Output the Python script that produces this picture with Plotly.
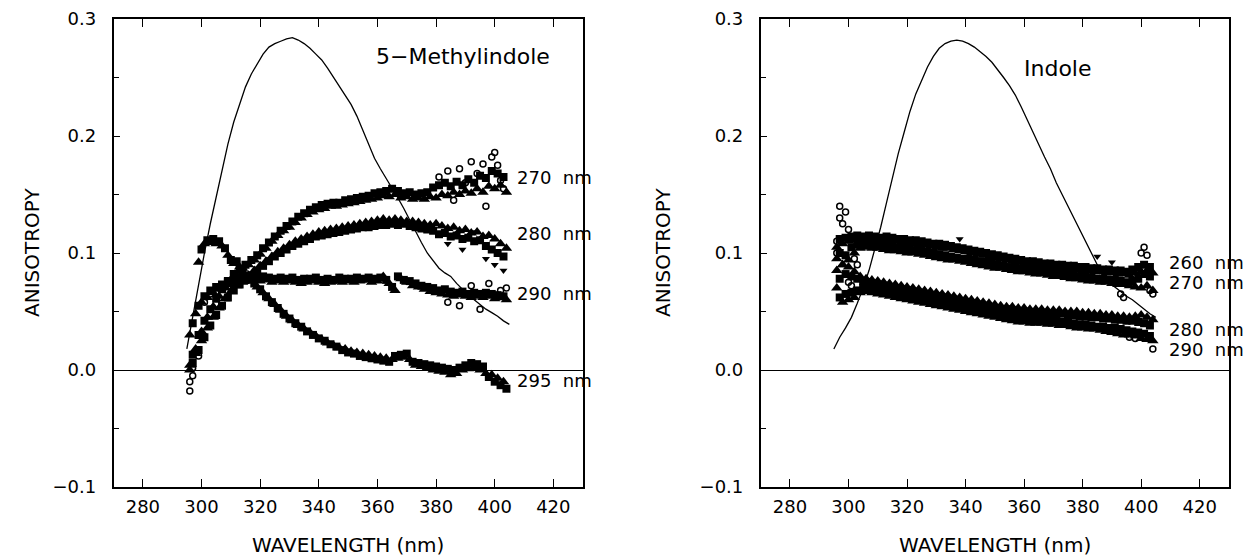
import plotly.graph_objects as go

# wavelength grid of the anisotropy data (nm)
wl = list(range(296, 405))
wl_295 = list(range(299, 405))

# ---- 5-Methylindole panel ----
mi_270 = [0.004, 0.013, 0.018, 0.030, 0.033, 0.042, 0.045, 0.052, 0.054, 0.061,
          0.063, 0.069, 0.070, 0.076, 0.077, 0.082, 0.081, 0.086, 0.087, 0.090,
          0.090, 0.094, 0.094, 0.098, 0.099, 0.104, 0.104, 0.109, 0.110, 0.114,
          0.115, 0.119, 0.119, 0.123, 0.122, 0.127, 0.126, 0.131, 0.130, 0.134,
          0.133, 0.137, 0.135, 0.139, 0.137, 0.141, 0.138, 0.142, 0.140, 0.143,
          0.140, 0.143, 0.141, 0.145, 0.142, 0.146, 0.143, 0.147, 0.144, 0.148,
          0.145, 0.149, 0.146, 0.151, 0.147, 0.152, 0.149, 0.153, 0.148, 0.155,
          0.150, 0.153, 0.147, 0.151, 0.148, 0.152, 0.146, 0.150, 0.147, 0.151,
          0.146, 0.152, 0.148, 0.156, 0.147, 0.158, 0.150, 0.160, 0.149, 0.157,
          0.152, 0.161, 0.150, 0.158, 0.153, 0.163, 0.151, 0.160, 0.155, 0.166,
          0.152, 0.164, 0.157, 0.170, 0.155, 0.168, 0.158, 0.165, 0.152]
mi_280 = [0.000, 0.006, 0.014, 0.017, 0.025, 0.028, 0.036, 0.038, 0.045, 0.047,
          0.053, 0.055, 0.061, 0.062, 0.067, 0.068, 0.072, 0.073, 0.077, 0.077,
          0.081, 0.081, 0.085, 0.085, 0.089, 0.089, 0.093, 0.093, 0.097, 0.097,
          0.101, 0.100, 0.104, 0.103, 0.107, 0.106, 0.110, 0.108, 0.112, 0.110,
          0.114, 0.112, 0.116, 0.114, 0.118, 0.115, 0.119, 0.116, 0.120, 0.117,
          0.121, 0.118, 0.122, 0.119, 0.123, 0.120, 0.124, 0.121, 0.125, 0.122,
          0.126, 0.122, 0.127, 0.123, 0.128, 0.124, 0.129, 0.124, 0.128, 0.125,
          0.129, 0.124, 0.128, 0.125, 0.127, 0.123, 0.127, 0.122, 0.126, 0.121,
          0.125, 0.120, 0.124, 0.119, 0.125, 0.116, 0.123, 0.117, 0.121, 0.114,
          0.122, 0.115, 0.119, 0.112, 0.120, 0.113, 0.117, 0.110, 0.118, 0.111,
          0.114, 0.106, 0.115, 0.103, 0.112, 0.100, 0.108, 0.097, 0.104]
mi_290 = [0.030, 0.040, 0.048, 0.055, 0.058, 0.063, 0.062, 0.068, 0.066, 0.071,
          0.069, 0.073, 0.071, 0.075, 0.073, 0.077, 0.074, 0.078, 0.075, 0.079,
          0.076, 0.080, 0.077, 0.079, 0.076, 0.080, 0.077, 0.079, 0.075, 0.078,
          0.076, 0.079, 0.075, 0.078, 0.076, 0.079, 0.075, 0.077, 0.074, 0.078,
          0.075, 0.078, 0.076, 0.079, 0.075, 0.077, 0.074, 0.078, 0.075, 0.077,
          0.076, 0.079, 0.075, 0.078, 0.076, 0.078, 0.075, 0.079, 0.076, 0.078,
          0.077, 0.079, 0.075, 0.078, 0.076, 0.079, 0.080, 0.077, 0.074, 0.071,
          0.068, 0.080, 0.078, 0.077, 0.075, 0.076, 0.072, 0.074, 0.071, 0.072,
          0.069, 0.071, 0.067, 0.070, 0.066, 0.068, 0.065, 0.069, 0.064, 0.067,
          0.063, 0.066, 0.064, 0.067, 0.063, 0.065, 0.062, 0.066, 0.063, 0.065,
          0.062, 0.066, 0.063, 0.065, 0.061, 0.064, 0.062, 0.063, 0.060]
mi_295 = [0.092, 0.103, 0.108, 0.111, 0.109, 0.112, 0.108, 0.110, 0.106, 0.104,
          0.098, 0.094, 0.091, 0.093, 0.088, 0.084, 0.081, 0.079, 0.076, 0.074,
          0.071, 0.069, 0.066, 0.063, 0.061, 0.058, 0.056, 0.053, 0.051, 0.048,
          0.046, 0.044, 0.042, 0.040, 0.038, 0.037, 0.035, 0.033, 0.032, 0.030,
          0.029, 0.027, 0.026, 0.025, 0.023, 0.022, 0.021, 0.020, 0.019, 0.017,
          0.018, 0.015, 0.016, 0.014, 0.015, 0.012, 0.014, 0.011, 0.013, 0.010,
          0.012, 0.009, 0.011, 0.008, 0.010, 0.007, 0.009, 0.012, 0.010, 0.013,
          0.011, 0.014, 0.009, 0.007, 0.004, 0.006, 0.003, 0.005, 0.002, 0.004,
          0.000, 0.003, -0.001, 0.002, -0.002, 0.001, -0.004, 0.000, -0.003, 0.002,
          0.000, 0.004, 0.001, 0.006, 0.002, 0.005, 0.000, 0.003, -0.003, -0.006,
          -0.004, -0.010, -0.007, -0.013, -0.010, -0.016]
# scattered open symbols
mi_open_x = [296, 296, 297, 297, 299, 301, 303, 381, 384, 386, 388, 390, 392, 394, 396, 397,
             399, 400, 401, 402, 403, 384, 388, 392, 395, 398, 402, 404]
mi_open_y = [-0.018, -0.010, -0.005, 0.002, 0.012, 0.058, 0.065, 0.165, 0.170, 0.145, 0.172,
             0.160, 0.178, 0.168, 0.176, 0.140, 0.182, 0.186, 0.175, 0.162, 0.155,
             0.058, 0.055, 0.072, 0.052, 0.074, 0.068, 0.070]
mi_inv_x = [384, 389, 393, 397, 400, 403]
mi_inv_y = [0.108, 0.103, 0.118, 0.095, 0.090, 0.085]

# emission spectrum, 5-methylindole
em_wl_mi = [295, 297, 299, 301, 303, 305, 307, 309, 311, 313, 315, 317, 319, 321, 323, 325,
            327, 329, 331, 333, 335, 337, 339, 341, 343, 345, 347, 349, 351, 353, 355, 357,
            359, 361, 363, 365, 367, 369, 371, 373, 375, 377, 379, 381, 383, 385, 387, 389,
            391, 393, 395, 397, 399, 401, 403, 405]
em_mi = [0.018, 0.045, 0.075, 0.100, 0.125, 0.148, 0.172, 0.193, 0.212, 0.228, 0.242, 0.253,
         0.262, 0.270, 0.276, 0.279, 0.281, 0.283, 0.284, 0.282, 0.279, 0.275, 0.270, 0.265,
         0.258, 0.250, 0.243, 0.235, 0.227, 0.217, 0.205, 0.193, 0.181, 0.172, 0.164, 0.156,
         0.147, 0.138, 0.128, 0.118, 0.109, 0.100, 0.093, 0.087, 0.083, 0.080, 0.074, 0.069,
         0.064, 0.060, 0.056, 0.052, 0.049, 0.046, 0.042, 0.039]

# ---- Indole panel ----
in_260 = [0.105, 0.112, 0.108, 0.113, 0.110, 0.114, 0.111, 0.115, 0.112, 0.114,
          0.111, 0.115, 0.112, 0.114, 0.111, 0.113, 0.110, 0.114, 0.111, 0.113,
          0.110, 0.112, 0.109, 0.112, 0.109, 0.111, 0.108, 0.111, 0.107, 0.110,
          0.107, 0.109, 0.106, 0.108, 0.105, 0.108, 0.104, 0.107, 0.104, 0.106,
          0.103, 0.105, 0.102, 0.104, 0.101, 0.103, 0.100, 0.102, 0.099, 0.101,
          0.098, 0.100, 0.097, 0.099, 0.096, 0.098, 0.095, 0.097, 0.094, 0.096,
          0.093, 0.095, 0.092, 0.094, 0.091, 0.093, 0.090, 0.093, 0.090, 0.092,
          0.089, 0.091, 0.088, 0.091, 0.088, 0.090, 0.087, 0.090, 0.087, 0.089,
          0.086, 0.089, 0.086, 0.088, 0.085, 0.088, 0.085, 0.087, 0.084, 0.087,
          0.084, 0.086, 0.083, 0.086, 0.083, 0.085, 0.082, 0.085, 0.082, 0.084,
          0.081, 0.086, 0.083, 0.088, 0.084, 0.090, 0.085, 0.088, 0.083]
in_270 = [0.095, 0.100, 0.090, 0.098, 0.094, 0.105, 0.100, 0.107, 0.104, 0.108,
          0.105, 0.108, 0.104, 0.107, 0.104, 0.107, 0.103, 0.106, 0.102, 0.106,
          0.102, 0.105, 0.101, 0.104, 0.100, 0.103, 0.100, 0.102, 0.099, 0.102,
          0.098, 0.101, 0.097, 0.100, 0.096, 0.099, 0.095, 0.098, 0.094, 0.097,
          0.094, 0.096, 0.093, 0.095, 0.092, 0.095, 0.091, 0.094, 0.090, 0.093,
          0.089, 0.092, 0.088, 0.091, 0.087, 0.090, 0.087, 0.089, 0.086, 0.088,
          0.085, 0.088, 0.084, 0.087, 0.084, 0.086, 0.083, 0.086, 0.082, 0.085,
          0.082, 0.084, 0.081, 0.084, 0.080, 0.083, 0.080, 0.082, 0.079, 0.082,
          0.078, 0.081, 0.078, 0.080, 0.077, 0.080, 0.076, 0.079, 0.076, 0.078,
          0.075, 0.078, 0.075, 0.077, 0.074, 0.077, 0.073, 0.076, 0.073, 0.075,
          0.072, 0.076, 0.071, 0.078, 0.070, 0.082, 0.072, 0.080, 0.068]
in_280 = [0.085, 0.078, 0.090, 0.082, 0.088, 0.080, 0.084, 0.078, 0.080, 0.076,
          0.078, 0.075, 0.077, 0.074, 0.076, 0.073, 0.075, 0.072, 0.074, 0.071,
          0.073, 0.070, 0.072, 0.069, 0.071, 0.068, 0.070, 0.067, 0.069, 0.066,
          0.068, 0.065, 0.067, 0.064, 0.066, 0.063, 0.065, 0.062, 0.064, 0.061,
          0.063, 0.060, 0.062, 0.059, 0.061, 0.058, 0.060, 0.057, 0.059, 0.056,
          0.058, 0.055, 0.057, 0.054, 0.056, 0.053, 0.055, 0.052, 0.054, 0.052,
          0.054, 0.051, 0.053, 0.050, 0.053, 0.050, 0.052, 0.049, 0.052, 0.049,
          0.052, 0.049, 0.051, 0.048, 0.051, 0.048, 0.051, 0.048, 0.050, 0.047,
          0.050, 0.047, 0.050, 0.046, 0.049, 0.046, 0.049, 0.045, 0.048, 0.045,
          0.048, 0.044, 0.047, 0.044, 0.047, 0.043, 0.046, 0.043, 0.046, 0.042,
          0.045, 0.042, 0.046, 0.041, 0.047, 0.040, 0.045, 0.038, 0.043]
in_290 = [0.070, 0.062, 0.058, 0.065, 0.060, 0.066, 0.062, 0.068, 0.066, 0.070,
          0.067, 0.070, 0.066, 0.069, 0.065, 0.068, 0.064, 0.067, 0.063, 0.066,
          0.062, 0.065, 0.061, 0.064, 0.060, 0.063, 0.059, 0.062, 0.058, 0.061,
          0.057, 0.060, 0.056, 0.059, 0.055, 0.058, 0.054, 0.057, 0.053, 0.056,
          0.052, 0.055, 0.051, 0.054, 0.050, 0.053, 0.049, 0.052, 0.048, 0.051,
          0.047, 0.050, 0.046, 0.049, 0.045, 0.048, 0.044, 0.047, 0.043, 0.046,
          0.042, 0.045, 0.041, 0.044, 0.041, 0.044, 0.040, 0.043, 0.040, 0.043,
          0.040, 0.043, 0.039, 0.042, 0.039, 0.042, 0.038, 0.041, 0.038, 0.041,
          0.037, 0.040, 0.036, 0.039, 0.036, 0.039, 0.035, 0.038, 0.035, 0.037,
          0.034, 0.037, 0.033, 0.036, 0.032, 0.036, 0.031, 0.035, 0.030, 0.034,
          0.030, 0.033, 0.029, 0.032, 0.027, 0.031, 0.026, 0.029, 0.025]
in_open_x = [296, 296, 297, 297, 298, 299, 300, 300, 301, 302, 303, 392, 393, 394, 396, 398,
             400, 401, 402, 403, 404, 404]
in_open_y = [0.100, 0.110, 0.140, 0.130, 0.125, 0.135, 0.120, 0.075, 0.072, 0.095, 0.090,
             0.085, 0.065, 0.062, 0.028, 0.027, 0.100, 0.105, 0.098, 0.068, 0.065, 0.018]
in_inv_x = [338, 385, 390]
in_inv_y = [0.112, 0.097, 0.092]

# emission spectrum, indole
em_wl_in = [295, 297, 299, 301, 303, 305, 307, 309, 311, 313, 315, 317, 319, 321, 323, 325,
            327, 329, 331, 333, 335, 337, 339, 341, 343, 345, 347, 349, 351, 353, 355, 357,
            359, 361, 363, 365, 367, 369, 371, 373, 375, 377, 379, 381, 383, 385, 387, 389,
            391, 393, 395, 397, 399, 401, 403, 405]
em_in = [0.018, 0.028, 0.036, 0.045, 0.057, 0.070, 0.085, 0.103, 0.122, 0.143, 0.165, 0.185,
         0.203, 0.221, 0.236, 0.248, 0.259, 0.268, 0.275, 0.279, 0.281, 0.282, 0.281, 0.279,
         0.276, 0.272, 0.268, 0.263, 0.257, 0.250, 0.243, 0.235, 0.225, 0.214, 0.203, 0.192,
         0.182, 0.172, 0.160, 0.150, 0.140, 0.130, 0.120, 0.110, 0.100, 0.090, 0.082, 0.076,
         0.071, 0.067, 0.063, 0.060, 0.056, 0.052, 0.048, 0.045]

FONT = "DejaVu Sans"
fig = go.Figure()


def add_panel(xa, ya, bands, opens, invs, em_x, em_y):
    fig.add_trace(go.Scatter(x=em_x, y=em_y, mode="lines", xaxis=xa, yaxis=ya,
                             line=dict(color="black", width=1.3), showlegend=False))
    for bx, by in bands:
        fig.add_trace(go.Scatter(x=bx[0::2], y=by[0::2], mode="markers", xaxis=xa, yaxis=ya,
                                 marker=dict(symbol="triangle-up", size=10, color="black"),
                                 showlegend=False))
        fig.add_trace(go.Scatter(x=bx[1::2], y=by[1::2], mode="markers", xaxis=xa, yaxis=ya,
                                 marker=dict(symbol="square", size=8, color="black"),
                                 showlegend=False))
    fig.add_trace(go.Scatter(x=opens[0], y=opens[1], mode="markers", xaxis=xa, yaxis=ya,
                             marker=dict(symbol="circle-open", size=6, color="black",
                                         line=dict(width=1.5)),
                             showlegend=False))
    fig.add_trace(go.Scatter(x=invs[0], y=invs[1], mode="markers", xaxis=xa, yaxis=ya,
                             marker=dict(symbol="triangle-down", size=7, color="black"),
                             showlegend=False))


add_panel("x", "y",
          [(wl, mi_270), (wl, mi_280), (wl, mi_290), (wl_295, mi_295)],
          (mi_open_x, mi_open_y), (mi_inv_x, mi_inv_y), em_wl_mi, em_mi)
add_panel("x2", "y2",
          [(wl, in_260), (wl, in_270), (wl, in_280), (wl, in_290)],
          (in_open_x, in_open_y), (in_inv_x, in_inv_y), em_wl_in, em_in)

xax = dict(range=[270, 430], tickvals=[280, 300, 320, 340, 360, 380, 400, 420],
           ticks="inside", ticklen=8, tickwidth=1.3, tickcolor="black",
           showline=True, linecolor="black", linewidth=1.6, mirror="ticks",
           showgrid=False, zeroline=False, ticklabelstandoff=3,
           tickfont=dict(family=FONT, size=18, color="black"))
yax = dict(range=[-0.1, 0.3], tickvals=[-0.1, 0.0, 0.1, 0.2, 0.3], tickformat=".1f",
           ticks="inside", ticklen=7, tickwidth=1.3, tickcolor="black",
           minor=dict(tickvals=[-0.05, 0.05, 0.15, 0.25], ticks="inside", ticklen=6,
                      tickcolor="black"),
           showline=True, linecolor="black", linewidth=1.6, mirror=True,
           showgrid=False, zeroline=True, zerolinecolor="black", zerolinewidth=1.3,
           ticklabelstandoff=12,
           tickfont=dict(family=FONT, size=18, color="black"))

fig.update_layout(
    width=1245, height=556,
    margin=dict(l=0, r=0, t=19, b=69),
    plot_bgcolor="white", paper_bgcolor="white",
    xaxis=dict(xax, domain=[0.0912, 0.4680], anchor="y"),
    yaxis=dict(yax, domain=[0, 1], anchor="x"),
    xaxis2=dict(xax, domain=[0.6110, 0.9871], anchor="y2"),
    yaxis2=dict(yax, domain=[0, 1], anchor="x2"),
)

ann_font = dict(family=FONT, size=18, color="black")
left_labels = [(0.1645, "270  nm"), (0.1165, "280  nm"), (0.065, "290  nm"),
               (-0.009, "295  nm")]
for yv, t in left_labels:
    fig.add_annotation(x=407, y=yv, xref="x", yref="y", text=t, showarrow=False,
                       xanchor="left", yanchor="middle", font=ann_font)
right_labels = [(0.092, "260  nm"), (0.0748, "270  nm"), (0.0349, "280  nm"),
                (0.0177, "290  nm")]
for yv, t in right_labels:
    fig.add_annotation(x=1.0, y=yv, xref="paper", yref="y2", text=t, showarrow=False,
                       xanchor="right", yanchor="middle", font=ann_font, borderpad=0)

fig.add_annotation(x=359, y=0.268, xref="x", yref="y", text="5−Methylindole",
                   showarrow=False, xanchor="left", yanchor="middle",
                   font=dict(family=FONT, size=22, color="black"))
fig.add_annotation(x=359.4, y=0.258, xref="x2", yref="y2", text="Indole",
                   showarrow=False, xanchor="left", yanchor="middle",
                   font=dict(family=FONT, size=22, color="black"))

# axis titles
for xc in [32, 663]:
    fig.add_annotation(x=xc / 1245, y=0.5, xref="paper", yref="paper",
                       text="ANISOTROPY", textangle=-90, showarrow=False,
                       font=dict(family=FONT, size=20, color="black"),
                       xanchor="center", yanchor="middle")
for xc in [348, 995]:
    fig.add_annotation(x=xc / 1245, y=-(545 - 487) / 467, xref="paper", yref="paper",
                       text="WAVELENGTH (nm)", showarrow=False,
                       font=dict(family=FONT, size=20, color="black"),
                       xanchor="center", yanchor="middle")

# the page has a default body margin; drop it so the figure sits at the window origin
fig.write_html("out.html", config={"displayModeBar": False},
               post_script="document.body.style.margin = '0';")
